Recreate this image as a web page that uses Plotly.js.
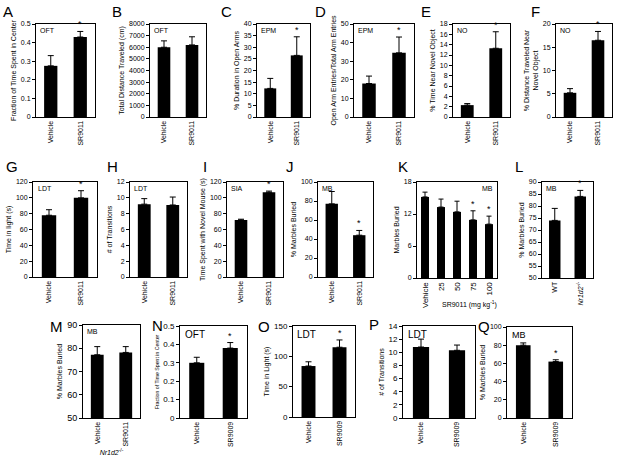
<!DOCTYPE html>
<html>
<head>
<meta charset="utf-8">
<script src="https://cdn.plot.ly/plotly-3.0.1.min.js"></script>
<style>
  html, body { margin: 0; padding: 0; background: #fff; }
  #fig { width: 621px; height: 458px; }
</style>
</head>
<body>
<div id="fig"></div>
<script>
// categories
const catsSR9011 = ['Vehicle', 'SR9011'];
const catsSR9009 = ['Vehicle', 'SR9009'];
const catsDose = ['Vehicle', '25', '50', '75', '100'];
const catsGeno = ['WT', '<i>Nr1d2</i><sup>-/-</sup>'];

// means and errors
const aMean = [0.275, 0.43],  aErr = [0.055, 0.03];
const bMean = [6000, 6200],   bErr = [550, 700];
const cMean = [12.3, 26.5],   cErr = [4.3, 8];
const dMean = [18, 34.5],     dErr = [4, 8.5];
const eMean = [2.3, 13.3],    eErr = [0.3, 3.2];
const fMean = [5.2, 16.5],    fErr = [0.9, 1.9];
const gMean = [78, 100],      gErr = [7, 9];
const hMean = [9.2, 9.1],     hErr = [0.7, 1.0];
const iMean = [72, 107],      iErr = [1, 1.5];
const jMean = [77, 44],       jErr = [13, 5];
const kMean = [15.2, 13.3, 12.4, 10.9, 10.1], kErr = [0.9, 1.5, 2.0, 1.7, 1.5];
const lMean = [74, 84],       lErr = [5, 2.5];
const mMean = [77.2, 78.2],   mErr = [3.5, 2.5];
const nMean = [0.30, 0.38],   nErr = [0.03, 0.03];
const oMean = [84, 115],      oErr = [7, 12];
const pMean = [10.8, 10.3],   pErr = [1.2, 0.8];
const qMean = [80, 62],       qErr = [2.5, 2];

// significance marks
const starSR = [false, true];
const starNone = [false, false];
const starDose = [false, false, false, true, true];

const W = 621, H = 458;

// box = [x0, x1, y0, y1] in pixels; letter = [x, y] in pixels
const panels = [
  { L: 'A', cats: catsSR9011, mean: aMean, err: aErr, star: starSR, box: [36, 95, 24, 117], range: [0, 0.5], dtick: 0.1, yt: 'Fraction of Time Spent in Center', tag: 'OFT', letter: [8, 11] },
  { L: 'B', cats: catsSR9011, mean: bMean, err: bErr, star: starNone, box: [150, 206, 24, 117], range: [0, 8000], dtick: 1000, yt: 'Total Distance Traveled (cm)', tag: 'OFT', letter: [117, 11] },
  { L: 'C', cats: catsSR9011, mean: cMean, err: cErr, star: starSR, box: [257, 310, 24, 117], range: [0, 40], dtick: 5, yt: '% Duration in Open Arms', tag: 'EPM', letter: [226, 11] },
  { L: 'D', cats: catsSR9011, mean: dMean, err: dErr, star: starSR, box: [354, 414, 24, 117], range: [0, 50], dtick: 10, yt: 'Open Arm Entries/Total Arm Entries', tag: 'EPM', letter: [320, 11] },
  { L: 'E', cats: catsSR9011, mean: eMean, err: eErr, star: starSR, box: [453, 510, 24, 117], range: [0, 18], dtick: 2, yt: '% Time Near Novel Object', tag: 'NO', letter: [426, 11] },
  { L: 'F', cats: catsSR9011, mean: fMean, err: fErr, star: starSR, box: [556, 612, 24, 117], range: [0, 20], dtick: 5, yt: '% Distance Traveled Near<br>Novel Object', tag: 'NO', letter: [535, 11] },
  { L: 'G', cats: catsSR9011, mean: gMean, err: gErr, star: starSR, box: [33, 97, 182, 277], range: [0, 120], dtick: 20, yt: 'Time in light (s)', tag: 'LDT', letter: [12, 166] },
  { L: 'H', cats: catsSR9011, mean: hMean, err: hErr, star: starNone, box: [130, 187, 182, 277], range: [0, 12], dtick: 2, yt: '# of Transitions', tag: 'LDT', letter: [112, 166] },
  { L: 'I', cats: catsSR9011, mean: iMean, err: iErr, star: starSR, box: [227, 283, 182, 277], range: [0, 120], dtick: 20, yt: 'Time Spent with Novel Mouse (s)', tag: 'SIA', letter: [205, 166] },
  { L: 'J', cats: catsSR9011, mean: jMean, err: jErr, star: starSR, box: [318, 373, 182, 277], range: [0, 100], dtick: 20, yt: '% Marbles Buried', tag: 'MB', letter: [290, 166] },
  { L: 'K', cats: catsDose, mean: kMean, err: kErr, star: starDose, box: [417, 497, 182, 278], range: [0, 18], dtick: 6, yt: 'Marbles Buried', tag: 'MB', tagRight: true, letter: [403, 166], barw: 0.5, xfs: 8 },
  { L: 'L', cats: catsGeno, mean: lMean, err: lErr, star: starSR, box: [542, 593, 182, 278], range: [50, 90], dtick: 5, yt: '% Marbles Buried', tag: 'MB', letter: [519, 166] },
  { L: 'M', cats: catsSR9011, mean: mMean, err: mErr, star: starNone, box: [83, 140, 325, 418], range: [50, 90], dtick: 10, yt: '% Marbles Buried', tag: 'MB', xt: '<i>Nr1d2</i><sup>-/-</sup>', letter: [56, 326], yfs: 9 },
  { L: 'N', cats: catsSR9009, mean: nMean, err: nErr, star: starSR, box: [180, 247, 326, 418], range: [0, 0.5], dtick: 0.1, yt: 'Fraction of Time Spent in Center', tag: 'OFT', letter: [157, 325], yfs: 8, tagfs: 10, ytfs: 5.2 },
  { L: 'O', cats: catsSR9009, mean: oMean, err: oErr, star: starSR, box: [293, 355, 326, 417], range: [0, 150], dtick: 50, yt: 'Time in Light (s)', tag: 'LDT', letter: [264, 326], yfs: 8, tagfs: 10 },
  { L: 'P', cats: catsSR9009, mean: pMean, err: pErr, star: starNone, box: [403, 475, 326, 418], range: [0, 14], dtick: 2, yt: '# of Transitions', tag: 'LDT', letter: [374, 324], yfs: 8, tagfs: 10 },
  { L: 'Q', cats: catsSR9009, mean: qMean, err: qErr, star: starSR, box: [507, 572, 327, 418], range: [0, 100], dtick: 20, yt: '% Marbles Buried', tag: 'MB', letter: [484, 326], tagfs: 9 }
];

const FONT = 'Liberation Sans, Arial, sans-serif';
const traces = [];
const annotations = [];
const layout = {
  width: W, height: H,
  margin: { l: 0, r: 0, t: 0, b: 0 },
  paper_bgcolor: '#fff', plot_bgcolor: '#fff',
  showlegend: false,
  font: { family: FONT, color: '#000', size: 7 },
  annotations: annotations
};

panels.forEach((p, i) => {
  const n = i + 1;
  const xa = 'x' + n, ya = 'y' + n;
  const [x0, x1, y0, y1] = p.box;
  const idx = p.cats.map((c, k) => k);

  traces.push({
    type: 'bar',
    x: idx, y: p.mean,
    xaxis: xa, yaxis: ya,
    width: p.barw || 0.45,
    marker: { color: '#000', line: { width: 0 } },
    error_y: { type: 'data', array: p.err, arrayminus: p.err.map(() => 0), symmetric: false, color: '#000', thickness: 1, width: p.barw ? 2.5 : 3 },
    hoverinfo: 'skip'
  });

  const xaxis = {
    domain: [x0 / W, x1 / W],
    anchor: ya,
    range: [-0.5, p.cats.length - 0.5],
    tickmode: 'array', tickvals: idx, ticktext: p.cats,
    showline: true, mirror: true, linecolor: '#000', linewidth: 1,
    ticks: '', tickangle: -90,
    tickfont: { size: p.xfs || 7, family: FONT },
    showgrid: false, zeroline: false, fixedrange: true
  };
  if (p.xt) xaxis.title = { text: p.xt, font: { size: 7, family: FONT }, standoff: 4 };
  layout['xaxis' + n] = xaxis;

  layout['yaxis' + n] = {
    domain: [1 - y1 / H, 1 - y0 / H],
    anchor: xa,
    range: p.range, dtick: p.dtick, tick0: p.range[0],
    showline: true, mirror: true, linecolor: '#000', linewidth: 1,
    ticks: 'outside', ticklen: 3, tickcolor: '#000',
    tickfont: { size: p.yfs || 7, family: FONT },
    showgrid: false, zeroline: false, fixedrange: true,
    title: { text: p.yt, font: { size: p.ytfs || 7, family: FONT }, standoff: 3 }
  };

  // assay tag inside the box
  annotations.push({
    xref: xa + ' domain', yref: ya + ' domain',
    x: p.tagRight ? 0.97 : 0.04, y: 0.99,
    xanchor: p.tagRight ? 'right' : 'left', yanchor: 'top',
    text: p.tag, showarrow: false,
    font: { size: p.tagfs || 7, family: FONT }
  });

  // asterisks above error bars
  idx.forEach(k => {
    if (!p.star[k]) return;
    annotations.push({
      xref: xa, yref: ya, x: k, y: p.mean[k] + p.err[k],
      yanchor: 'bottom',
      text: '*', showarrow: false,
      font: { size: 9, family: FONT }
    });
  });

  // panel letter
  annotations.push({
    xref: 'paper', yref: 'paper',
    x: p.letter[0] / W, y: 1 - p.letter[1] / H,
    xanchor: 'center', yanchor: 'middle',
    text: p.L, showarrow: false,
    font: { size: 15, family: FONT }
  });
});

// dose axis title for K sits to the right of the rotated "Vehicle" label
annotations.push({
  xref: 'x11 domain', yref: 'paper',
  x: 0.66, y: 1 - 304 / H,
  xanchor: 'center', yanchor: 'middle',
  text: 'SR9011 (mg kg<sup>-1</sup>)', showarrow: false,
  font: { size: 7, family: FONT }
});

Plotly.newPlot('fig', traces, layout, { displayModeBar: false, staticPlot: true });
</script>
</body>
</html>
